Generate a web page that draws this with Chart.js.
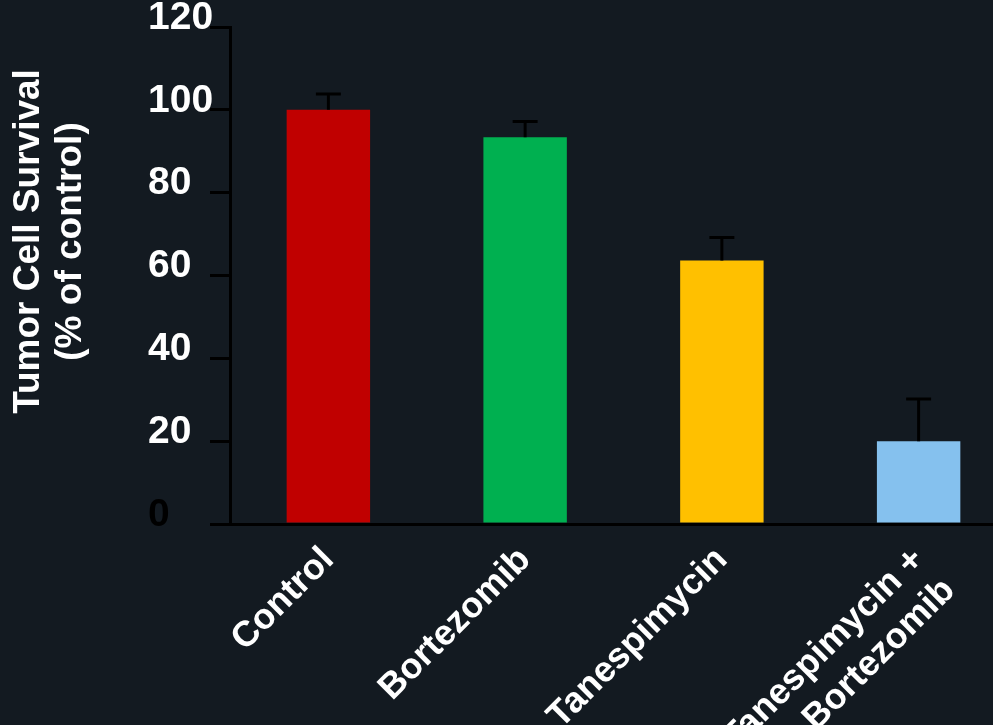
<!DOCTYPE html>
<html>
<head>
<meta charset="utf-8">
<script src="https://cdn.jsdelivr.net/npm/chart.js@4/dist/chart.umd.min.js"></script>
<style>
  html, body { margin: 0; padding: 0; background: #131a21; overflow: hidden; width: 993px; height: 725px; }
  #wrap { position: absolute; left: 0; top: 0; width: 1020px; height: 725px; }
  canvas { display: block; background: #131a21; }
</style>
</head>
<body>
<div id="wrap"><canvas id="c" width="1020" height="725"></canvas></div>
<script>
// ---- data ----
const categories = ['Control', 'Bortezomib', 'Tanespimycin', ['Tanespimycin +', 'Bortezomib']];
const survival = [100, 93.4, 63.6, 20];
const errorUpper = [103.8, 97.2, 69.2, 30.2];
const barColors = ['#c00000', '#00b050', '#ffc000', '#85c1ee'];
const yMin = 0;
const yMax = 120;
const yStep = 20;
const yTitleLines = ['Tumor Cell Survival', '(% of control)'];

const FONT = '"Liberation Sans", Arial, Helvetica, sans-serif';

const errorBarPlugin = {
  id: 'errorBars',
  afterDatasetsDraw(chart) {
    const ctx = chart.ctx;
    const meta = chart.getDatasetMeta(0);
    const y = chart.scales.y;
    ctx.save();
    ctx.strokeStyle = '#000';
    ctx.lineWidth = 3;
    meta.data.forEach((bar, i) => {
      const yTop = bar.y;
      const yErr = y.getPixelForValue(errorUpper[i]);
      ctx.beginPath();
      ctx.moveTo(bar.x, yTop);
      ctx.lineTo(bar.x, yErr);
      ctx.moveTo(bar.x - 12.5, yErr);
      ctx.lineTo(bar.x + 12.5, yErr);
      ctx.stroke();
    });
    ctx.restore();
  }
};

const yTitlePlugin = {
  id: 'yTitle',
  afterDraw(chart) {
    const ctx = chart.ctx;
    const a = chart.chartArea;
    const cy = (a.top + a.bottom) / 2 - 34;
    ctx.save();
    ctx.fillStyle = '#ffffff';
    ctx.font = 'bold 37px ' + FONT;
    ctx.textAlign = 'center';
    ctx.textBaseline = 'middle';
    const xs = [29, 71];
    yTitleLines.forEach((line, i) => {
      ctx.save();
      ctx.translate(xs[i], cy);
      ctx.rotate(-Math.PI / 2);
      ctx.fillText(line, 0, 0);
      ctx.restore();
    });
    ctx.restore();
  }
};

new Chart(document.getElementById('c'), {
  type: 'bar',
  data: {
    labels: categories,
    datasets: [{
      data: survival,
      backgroundColor: barColors,
      borderWidth: 0,
      categoryPercentage: 1.0,
      barPercentage: 0.424
    }]
  },
  options: {
    responsive: false,
    animation: false,
    devicePixelRatio: 1,
    layout: { padding: { top: 27, right: 3, left: 148, bottom: 0 } },
    plugins: {
      legend: { display: false },
      tooltip: { enabled: false }
    },
    scales: {
      x: {
        type: 'category',
        offset: true,
        grid: { display: false, drawTicks: false },
        border: { display: true, color: '#000', width: 3 },
        ticks: {
          color: '#ffffff',
          font: { family: FONT, size: 36, weight: 'bold' },
          minRotation: 45,
          maxRotation: 45,
          autoSkip: false,
          padding: 15
        },
        afterFit(scale) { scale.height = 201; }
      },
      y: {
        min: yMin,
        max: yMax,
        grid: {
          display: true,
          drawOnChartArea: false,
          drawTicks: true,
          tickLength: 20,
          color: '#000',
          lineWidth: 3
        },
        border: { display: true, color: '#000', width: 3 },
        ticks: {
          stepSize: yStep,
          color: (c) => (c.tick && c.tick.value === 0 ? '#000000' : '#ffffff'),
          font: { family: FONT, size: 39, weight: 'bold' },
          crossAlign: 'far',
          padding: 0,
          labelOffset: -9
        },
        afterFit(scale) { scale.width = 82; }
      }
    }
  },
  plugins: [errorBarPlugin, yTitlePlugin]
});
</script>
</body>
</html>
